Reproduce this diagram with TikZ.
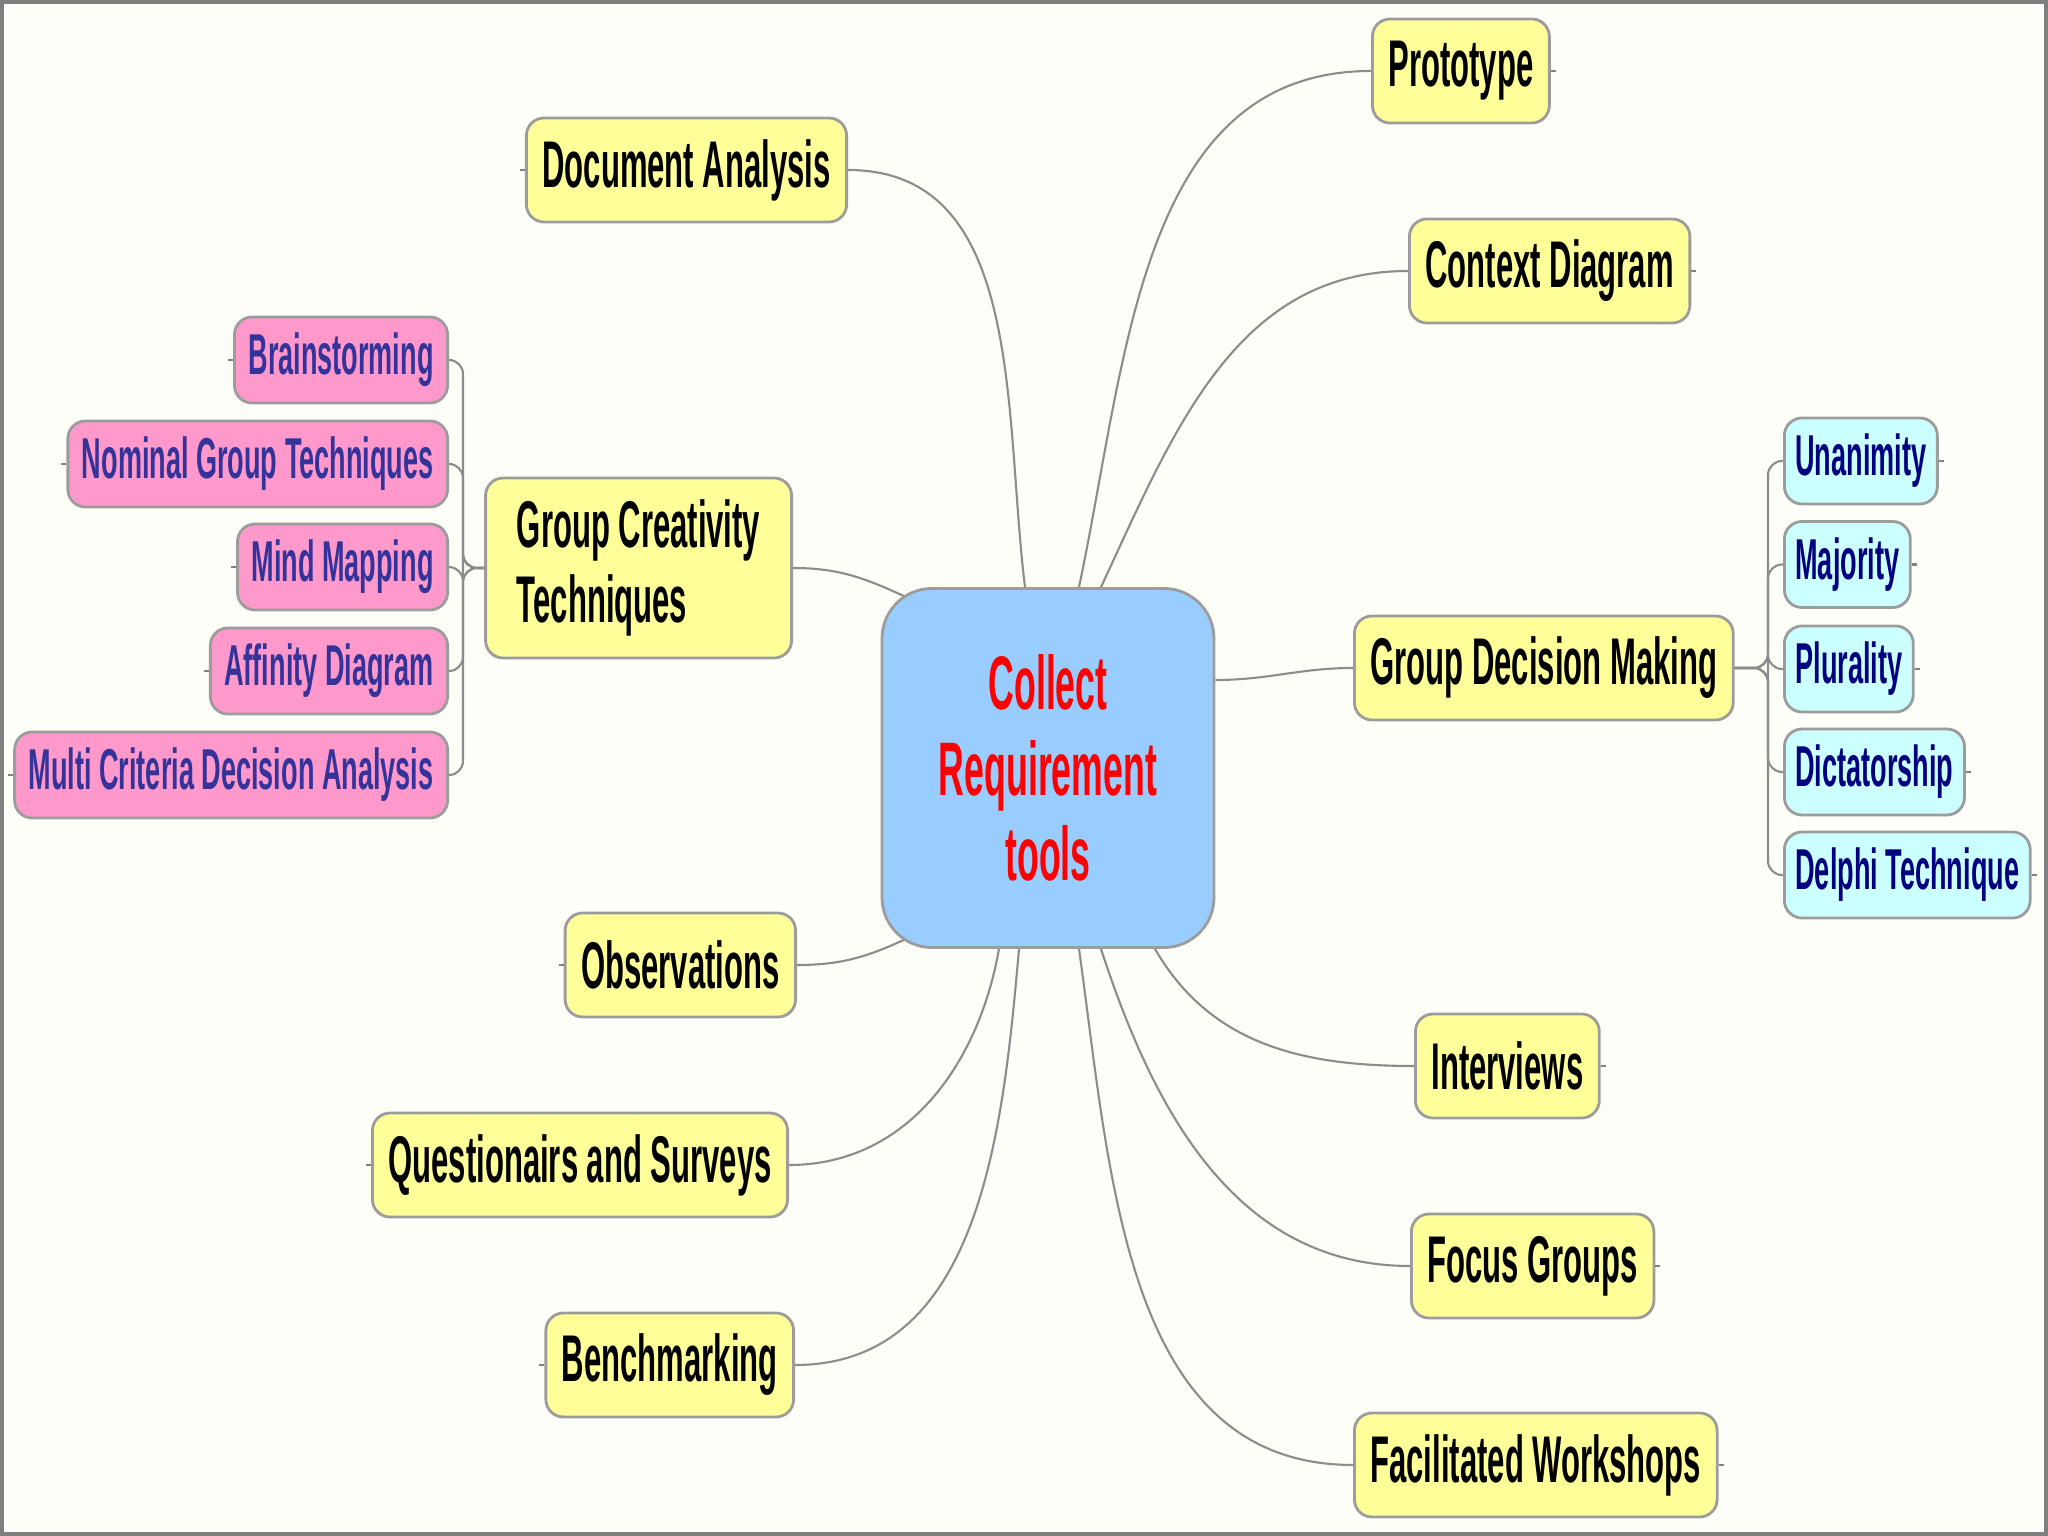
\documentclass[tikz,border=0pt]{standalone}
\usepackage{fontspec}
\usetikzlibrary{positioning,backgrounds}
\newfontfamily\mapfont{Liberation Sans}[FakeStretch=0.47]
\definecolor{paper}{HTML}{FEFEF8}
\definecolor{framegrey}{HTML}{808080}
\definecolor{edgegrey}{HTML}{9C9C9C}
\definecolor{linkgrey}{HTML}{8C8C8C}
\definecolor{lemon}{HTML}{FFFF99}
\definecolor{candy}{HTML}{FF99CC}
\definecolor{frost}{HTML}{CCFFFF}
\definecolor{sky}{HTML}{99CCFF}
\definecolor{plum}{HTML}{333399}
\definecolor{deepnavy}{HTML}{000080}

\begin{document}
\begin{tikzpicture}[
    topicbox/.style={rectangle, rounded corners=5pt, draw=edgegrey, line width=0.8pt,
        fill=lemon, text=black, minimum height=1.04cm, inner xsep=0.16cm,
        font={\mapfont\fontsize{18.8}{21.3}\selectfont\bfseries}},
    pinkbox/.style={rectangle, rounded corners=5pt, draw=edgegrey, line width=0.8pt,
        fill=candy, text=plum, minimum height=0.86cm, inner xsep=0.14cm,
        font={\mapfont\fontsize{16.4}{19}\selectfont\bfseries}},
    cyanbox/.style={rectangle, rounded corners=5pt, draw=edgegrey, line width=0.8pt,
        fill=frost, text=deepnavy, minimum height=0.86cm, inner xsep=0.11cm,
        font={\mapfont\fontsize{16.4}{19}\selectfont\bfseries}},
    corebox/.style={rectangle, rounded corners=0.5cm, draw=edgegrey, line width=0.8pt,
        fill=sky, text=red, align=center, minimum width=3.32cm, minimum height=3.59cm,
        font={\mapfont\fontsize{21.6}{24.4}\selectfont\bfseries}},
    link/.style={draw=linkgrey, line width=0.6pt},
    stub/.style={draw=framegrey, line width=0.8pt},
]
\useasboundingbox (0,0) rectangle (20.48,-15.36);
\begin{scope}[on background layer]
    \fill[paper] (0,0) rectangle (20.48,-15.36);
\end{scope}
\draw[framegrey, line width=0.04cm] (0.02,-0.02) rectangle (20.46,-15.34);

% Central topic
\node[corebox] (core) at (10.48,-7.68) {Collect\\Requirement\\tools};

% Main branches, left side
\node[topicbox, anchor=east] (da) at (8.48,-1.70) {Document Analysis};
\node[topicbox, anchor=east, align=left, minimum width=3.06cm, minimum height=1.80cm]
    (gct) at (7.93,-5.68) {Group Creativity\\Techniques};
\node[topicbox, anchor=east] (obs) at (7.97,-9.65) {Observations};
\node[topicbox, anchor=east] (qs) at (7.89,-11.65) {Questionairs and Surveys};
\node[topicbox, anchor=east] (bm) at (7.95,-13.65) {Benchmarking};

% Main branches, right side
\node[topicbox, anchor=west] (proto) at (13.71,-0.71) {Prototype};
\node[topicbox, anchor=west] (ctx) at (14.08,-2.71) {Context Diagram};
\node[topicbox, anchor=west] (gdm) at (13.53,-6.68) {Group Decision Making};
\node[topicbox, anchor=west] (iv) at (14.14,-10.66) {Interviews};
\node[topicbox, anchor=west] (fg) at (14.10,-12.66) {Focus Groups};
\node[topicbox, anchor=west] (fw) at (13.53,-14.65) {Facilitated Workshops};

% Group creativity techniques
\node[pinkbox, anchor=east] (brain) at (4.49,-3.60) {Brainstorming};
\node[pinkbox, anchor=east] (ngt) at (4.49,-4.64) {Nominal Group Techniques};
\node[pinkbox, anchor=east] (mind) at (4.49,-5.67) {Mind Mapping};
\node[pinkbox, anchor=east] (aff) at (4.49,-6.71) {Affinity Diagram};
\node[pinkbox, anchor=east] (mcda) at (4.49,-7.75) {Multi Criteria Decision Analysis};

% Group decision making
\node[cyanbox, anchor=west] (una) at (17.83,-4.61) {Unanimity};
\node[cyanbox, anchor=west] (maj) at (17.83,-5.645) {Majority};
\node[cyanbox, anchor=west] (plu) at (17.83,-6.69) {Plurality};
\node[cyanbox, anchor=west] (dic) at (17.83,-7.72) {Dictatorship};
\node[cyanbox, anchor=west] (del) at (17.83,-8.75) {Delphi Technique};

% Branch curves (behind the central topic)
\begin{scope}[on background layer]
\draw[link] (da.east) to[out=0, in=97] ([xshift=-0.23cm]core.north);
\draw[link] (proto.west) to[out=180, in=78] ([xshift=0.31cm]core.north);
\draw[link] (ctx.west) to[out=180, in=65] ([xshift=0.53cm]core.north);
\draw[link] (gct.east) to[out=0, in=155] ([shift={(-1.40cm,1.70cm)}]core.center);
\draw[link] (gdm.west) to[out=180, in=0] ([yshift=0.88cm]core.east);
\draw[link] (obs.east) to[out=0, in=-155] ([shift={(-1.40cm,-1.70cm)}]core.center);
\draw[link] (qs.east) to[out=0, in=-100] ([xshift=-0.49cm]core.south);
\draw[link] (bm.east) to[out=0, in=-95] ([xshift=-0.29cm]core.south);
\draw[link] (iv.west) to[out=180, in=-60] ([xshift=1.07cm]core.south);
\draw[link] (fg.west) to[out=180, in=-72] ([xshift=0.53cm]core.south);
\draw[link] (fw.west) to[out=180, in=-82] ([xshift=0.31cm]core.south);
\end{scope}

% Sub-branch brackets
\foreach \sub in {brain,ngt,mind,aff,mcda}
    \draw[link, rounded corners=4pt] (gct.west) -| ([xshift=0.14cm]\sub.east) -- (\sub.east);
\foreach \sub in {una,maj,plu,dic,del}
    \draw[link, rounded corners=4pt] (gdm.east) -| ([xshift=-0.15cm]\sub.west) -- (\sub.west);

% Little open-end stubs
\foreach \n in {da,obs,qs,bm,brain,ngt,mind,aff,mcda}
    \draw[stub] (\n.west) -- ++(-0.05,0);
\foreach \n in {proto,ctx,iv,fg,fw,una,maj,plu,dic,del}
    \draw[stub] (\n.east) -- ++(0.05,0);

\end{tikzpicture}
\end{document}
